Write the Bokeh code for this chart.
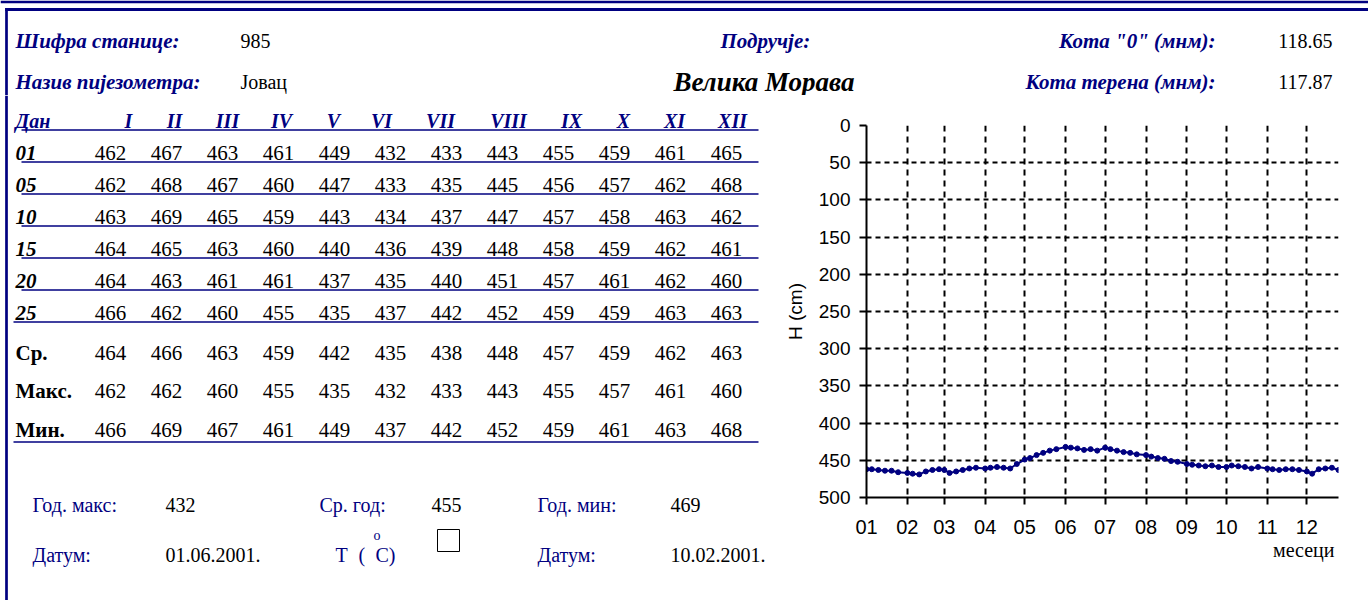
import pandas as pd
from bokeh.plotting import figure
from bokeh.layouts import column, row
from bokeh.models import (Range1d, SingleIntervalTicker, MonthsTicker,
                          DatetimeTickFormatter, Title)
from bokeh.core.properties import value
from bokeh.embed import file_html
from bokeh.resources import INLINE

# ---------------- data ----------------
station_code = "985"
piezometer = "Јовац"
region = "Велика Морава"
kota_zero = "118.65"
kota_terrain = "117.87"
year = 2001
month_labels = ["I", "II", "III", "IV", "V", "VI", "VII", "VIII", "IX", "X", "XI", "XII"]
day_labels = ["01", "05", "10", "15", "20", "25"]
days = [1, 5, 10, 15, 20, 25]
h_day01 = [462, 467, 463, 461, 449, 432, 433, 443, 455, 459, 461, 465]
h_day05 = [462, 468, 467, 460, 447, 433, 435, 445, 456, 457, 462, 468]
h_day10 = [463, 469, 465, 459, 443, 434, 437, 447, 457, 458, 463, 462]
h_day15 = [464, 465, 463, 460, 440, 436, 439, 448, 458, 459, 462, 461]
h_day20 = [464, 463, 461, 461, 437, 435, 440, 451, 457, 461, 462, 460]
h_day25 = [466, 462, 460, 455, 435, 437, 442, 452, 459, 459, 463, 463]
stat_labels = ["Ср.", "Макс.", "Мин."]
h_mean = [464, 466, 463, 459, 442, 435, 438, 448, 457, 459, 462, 463]
h_max = [462, 462, 460, 455, 435, 432, 433, 443, 455, 457, 461, 460]
h_min = [466, 469, 467, 461, 449, 437, 442, 452, 459, 461, 463, 468]
annual_max = "432"
annual_max_date = "01.06.2001."
annual_mean = "455"
annual_min = "469"
annual_min_date = "10.02.2001."

day_rows = [h_day01, h_day05, h_day10, h_day15, h_day20, h_day25]
stat_rows = [h_mean, h_max, h_min]

# ---------------- layout constants ----------------
NAVY = "#000080"
SERIF = "Liberation Serif"
SANS = "Liberation Sans"
W = 1368
H = 600
A_H = 95
B_W = 776
BODY_H = H - A_H


def no_align(f):
    try:
        f.frame_align = False
    except (AttributeError, ValueError):
        pass


def text_fig(w, h, x0, y0):
    f = figure(width=w, height=h, x_range=Range1d(x0, x0 + w), y_range=Range1d(y0 + h, y0),
               output_backend="svg", toolbar_location=None,
               x_axis_location=None, y_axis_location=None, min_border=0)
    f.outline_line_color = None
    f.background_fill_color = "white"
    f.border_fill_color = "white"
    f.xgrid.grid_line_color = None
    f.ygrid.grid_line_color = None
    no_align(f)
    return f


def put(f, xs, ys, texts, size, color="black", style="normal", align="left", font=SERIF):
    f.text(x=xs, y=ys, text=texts, text_font=value(font), text_font_size=size,
           text_font_style=style, text_color=color, text_align=align,
           text_baseline="alphabetic")


# ---------------- header ----------------
A = text_fig(W, A_H, 0, 0)
A.segment(x0=[0, 4.7], y0=[1.3, 9], x1=[W, W], y1=[1.3, 9], line_color=NAVY, line_width=2.8)
A.segment(x0=[6], y0=[7.6], x1=[6], y1=[A_H], line_color=NAVY, line_width=2.7)
put(A, [15, 15], [40, 81], ["Шифра станице:", "Назив пијезометра:"], "21px", NAVY, "bold italic")
put(A, [240, 240], [40, 81], [station_code, piezometer], "20px")
put(A, [720], [40], ["Подручје:"], "21px", NAVY, "bold italic")
put(A, [673], [81], [region], "27px", "black", "bold italic")
put(A, [1215, 1215], [40, 81], ["Кота \"0\" (мнм):", "Кота терена (мнм):"], "21px", NAVY,
    "bold italic", "right")
put(A, [1332, 1332], [40, 81], [kota_zero, kota_terrain], "20px", align="right")

# ---------------- table + footer ----------------
B = text_fig(B_W, BODY_H, 0, A_H)
B.segment(x0=[6], y0=[A_H], x1=[6], y1=[H], line_color=NAVY, line_width=2.7)

col_x0, col_dx = 110, 56
hdr_x = [128, 174, 227, 281, 333, 381, 440, 508, 571, 623, 674, 732]
hdr_base = 120
row_base0, row_dy = 152, 32
stat_base0, stat_dy = 352, 38.5

put(B, [15], [hdr_base], ["Дан"], "20px", NAVY, "bold italic")
put(B, hdr_x, [hdr_base] * 12, month_labels, "20px", NAVY, "bold italic", "center")

xs, ys, ts = [], [], []
for r, vals in enumerate(day_rows):
    for m, v in enumerate(vals):
        xs.append(col_x0 + m * col_dx)
        ys.append(row_base0 + r * row_dy)
        ts.append(str(v))
for r, vals in enumerate(stat_rows):
    for m, v in enumerate(vals):
        xs.append(col_x0 + m * col_dx)
        ys.append(stat_base0 + r * stat_dy)
        ts.append(str(v))
put(B, xs, ys, ts, "21px", align="center")
put(B, [15] * len(day_labels), [row_base0 + r * row_dy for r in range(len(day_labels))],
    day_labels, "21px", "black", "bold italic")
put(B, [15] * len(stat_labels), [stat_base0 + r * stat_dy for r in range(len(stat_labels))],
    stat_labels, "21px", "black", "bold")

line_ys = [hdr_base + 9.5] + [row_base0 + r * row_dy + 9.5 for r in range(len(day_labels))]
line_x0 = [21] * (len(line_ys) - 1) + [13]
line_ys.append(stat_base0 + 2 * stat_dy + 12.5)
line_x0.append(13)
B.segment(x0=line_x0, y0=line_ys, x1=[758] * len(line_ys), y1=line_ys,
          line_color=NAVY, line_width=1.3)

put(B, [32, 319, 537], [504] * 3, ["Год. макс:", "Ср. год:", "Год. мин:"], "20px", NAVY)
put(B, [165, 431, 670], [504] * 3, [annual_max, annual_mean, annual_min], "20px")
put(B, [32, 537], [554] * 2, ["Датум:", "Датум:"], "20px", NAVY)
put(B, [165, 670], [554] * 2, [annual_max_date, annual_min_date], "20px")
put(B, [335, 358, 375], [554] * 3, ["T", "(", "C)"], "20px", NAVY)
put(B, [373], [535], ["o"], "14px", NAVY)
B.quad(left=[437], right=[459], top=[529], bottom=[551], fill_color=None,
       line_color="black", line_width=1)

# ---------------- chart ----------------
dates, levels = [], []
for m in range(12):
    for d_i, d in enumerate(days):
        dates.append(pd.Timestamp(year, m + 1, d))
        levels.append(day_rows[d_i][m])

C = figure(width=W - B_W, height=BODY_H, x_axis_type="datetime",
           x_range=Range1d(dates[0], dates[-1]), y_range=Range1d(500, 0),
           output_backend="svg", toolbar_location=None,
           min_border_left=90, min_border_right=30, min_border_top=30, min_border_bottom=103)
C.outline_line_color = None
C.background_fill_color = "white"
C.border_fill_color = "white"
no_align(C)

C.xaxis.ticker = MonthsTicker(months=list(range(12)))
C.xaxis.formatter = DatetimeTickFormatter(months="%m", days="%m", years="%m")
C.yaxis.ticker = SingleIntervalTicker(interval=50, num_minor_ticks=0)

for ax in (C.xaxis[0], C.yaxis[0]):
    ax.axis_line_color = "black"
    ax.axis_line_width = 2
    ax.major_tick_line_color = "black"
    ax.major_tick_line_width = 2
    ax.major_tick_in = 0
    ax.major_tick_out = 7
    ax.minor_tick_line_color = None
    ax.major_label_text_font = SANS
    ax.major_label_text_color = "black"
C.yaxis.major_label_text_font_size = "19px"
C.yaxis.major_label_standoff = 9
C.xaxis.major_label_text_font_size = "20px"
C.xaxis.major_label_standoff = 15
C.yaxis.axis_label = "H (cm)"
C.yaxis.axis_label_text_font = SANS
C.yaxis.axis_label_text_font_size = "19px"
C.yaxis.axis_label_text_font_style = "normal"
C.yaxis.axis_label_text_color = "black"
C.yaxis.axis_label_standoff = 10

C.xgrid.grid_line_color = "black"
C.xgrid.grid_line_width = 2
C.xgrid.grid_line_dash = "6 5"
C.ygrid.grid_line_color = "black"
C.ygrid.grid_line_width = 2
C.ygrid.grid_line_dash = "5 4"

C.line(x=dates, y=levels, line_color=NAVY, line_width=2)
C.scatter(x=dates, y=levels, marker="circle", size=5, fill_color=NAVY, line_color=NAVY)

C.add_layout(Title(text="месеци", align="right", text_font=SERIF, text_font_size="20px",
                   text_font_style="normal", text_color="black", standoff=0, offset=4), "below")

layout = column(A, row(B, C))
open("out.html", "w").write(file_html(layout, INLINE))
